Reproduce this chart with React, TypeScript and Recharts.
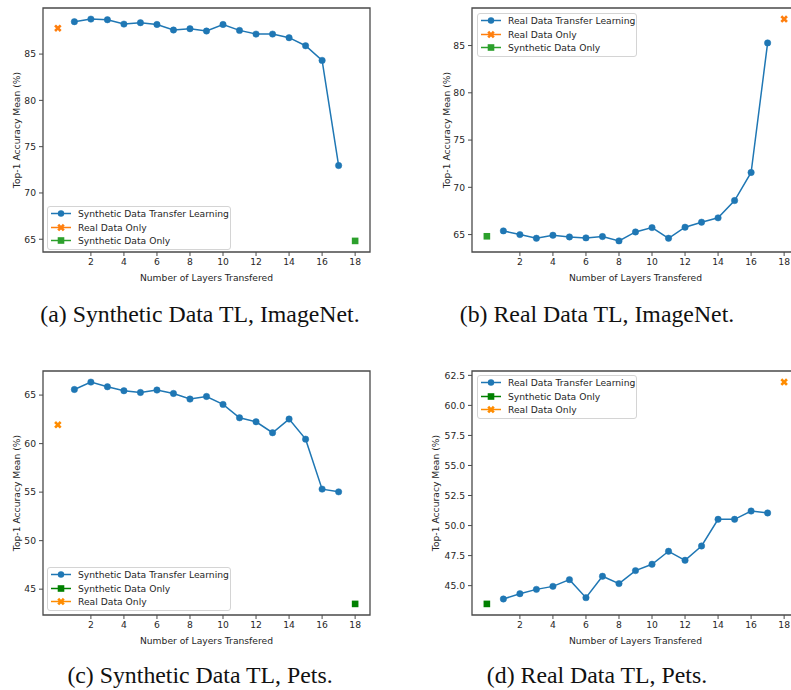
import React from 'react';
import { ComposedChart, Line, XAxis, YAxis, Legend, ReferenceArea } from 'recharts';

// layers transferred (x) for the transfer-learning curves
const layers = [1, 2, 3, 4, 5, 6, 7, 8, 9, 10, 11, 12, 13, 14, 15, 16, 17];
const xTicks = [2, 4, 6, 8, 10, 12, 14, 16, 18];

const synImagenetTL = [88.5, 88.78, 88.71, 88.24, 88.39, 88.2, 87.6, 87.74, 87.49, 88.2, 87.56, 87.16, 87.16, 86.77, 85.9, 84.32, 72.96];
const realImagenetTL = [65.39, 65.0, 64.61, 64.93, 64.75, 64.65, 64.79, 64.33, 65.28, 65.74, 64.61, 65.78, 66.31, 66.77, 68.6, 71.57, 85.28];
const synPetsTL = [65.58, 66.34, 65.86, 65.45, 65.27, 65.52, 65.17, 64.59, 64.86, 64.04, 62.66, 62.25, 61.12, 62.53, 60.46, 55.31, 55.03];
const realPetsTL = [43.89, 44.33, 44.69, 44.94, 45.5, 44.0, 45.78, 45.17, 46.25, 46.78, 47.86, 47.11, 48.3, 50.52, 50.52, 51.21, 51.05];

const imagenetRealOnly = 87.8;
const imagenetSynOnly = 64.82;
const petsRealOnly = 61.94;
const petsSynOnly = 43.48;

const ticksImagenet = [65, 70, 75, 80, 85];
const ticksSynPets = [45, 50, 55, 60, 65];
const ticksRealPets = [45, 47.5, 50, 52.5, 55, 57.5, 60, 62.5];

const captions = [
  '(a) Synthetic Data TL, ImageNet.',
  '(b) Real Data TL, ImageNet.',
  '(c) Synthetic Data TL, Pets.',
  '(d) Real Data TL, Pets.'
];

const BLUE = '#1f77b4';
const FONT = 'DejaVu Sans';
const FS = 9.2;
const AXIS = '#4a4a4a';
const TEXT = '#262626';

type Marker = 'circle' | 'x' | 'square';

function markerPath(kind: Marker, cx: number, cy: number, color: string, key?: any) {
  if (kind === 'square') {
    return <rect key={key} x={cx - 3.3} y={cy - 3.3} width={6.6} height={6.6} fill={color} />;
  }
  if (kind === 'x') {
    const v = [[-0.25, -0.5], [0, -0.25], [0.25, -0.5], [0.5, -0.25], [0.25, 0], [0.5, 0.25], [0.25, 0.5], [0, 0.25], [-0.25, 0.5], [-0.5, 0.25], [-0.25, 0], [-0.5, -0.25]];
    const s = 7.5;
    const d = v.map((p, i) => `${i ? 'L' : 'M'}${cx + p[0] * s},${cy + p[1] * s}`).join(' ') + 'Z';
    return <path key={key} d={d} fill={color} />;
  }
  return <circle key={key} cx={cx} cy={cy} r={3.2} fill={color} />;
}

type Item = { name: string; color: string; marker: Marker };

function LegendBox({ items, width }: { items: Item[]; width: number }) {
  return <div style={{
    width,
    boxSizing: 'border-box',
    border: '1px solid #d4d4d4',
    borderRadius: 3,
    background: 'rgba(255,255,255,0.85)',
    padding: '0 0 1px 0',
    fontFamily: FONT,
    fontSize: FS,
    color: TEXT
  }}>
      {items.map(it => <div key={it.name} style={{ height: 13.5, display: 'flex', alignItems: 'center' }}>
          <svg width={30} height={13} style={{ flex: 'none' }}>
            <line x1={3} x2={23} y1={6.5} y2={6.5} stroke={it.color} strokeWidth={1.5} />
            {markerPath(it.marker, 13, 6.5, it.color)}
          </svg>
          <span style={{ whiteSpace: 'nowrap', lineHeight: '13px' }}>{it.name}</span>
        </div>)}
    </div>;
}

type PanelProps = {
  left: number;
  top: number;
  width: number;
  yAxisWidth: number;
  tl: number[];
  tlName: string;
  realX: number;
  realY: number;
  realColor: string;
  synX: number;
  synY: number;
  synColor: string;
  order: ('real' | 'syn')[];
  yTicks: number[];
  decimals: number;
  yLabelX: number;
  legendLeft: number;
  legendTop: number;
  legendWidth: number;
};

function Panel(p: PanelProps) {
  const tlData = layers.map((x, i) => ({ x, y: p.tl[i] }));
  const all = [...p.tl, p.realY, p.synY];
  const lo = Math.min(...all);
  const hi = Math.max(...all);
  const pad = (hi - lo) * 0.05;
  const domain = [lo - pad, hi + pad];
  const items: Item[] = [{ name: p.tlName, color: BLUE, marker: 'circle' }];
  p.order.forEach(k => items.push(k === 'real' ? { name: 'Real Data Only', color: p.realColor, marker: 'x' } : { name: 'Synthetic Data Only', color: p.synColor, marker: 'square' }));
  const tickStyle = { fontSize: FS, fill: TEXT, fontFamily: FONT };
  return <div style={{ position: 'absolute', left: p.left, top: p.top }}>
      <ComposedChart width={p.width} height={290} margin={{ top: 8, right: 30, left: 0, bottom: 0 }}>
        <XAxis dataKey="x" type="number" domain={[-0.9, 18.9]} ticks={xTicks} allowDataOverflow height={38} axisLine={false} tickSize={4} tickMargin={2} tickLine={{ stroke: AXIS }} tick={tickStyle} label={{ value: 'Number of Layers Transfered', position: 'insideBottom', offset: 9, style: { fontSize: FS, fill: TEXT, fontFamily: FONT } }} />
        <YAxis type="number" domain={domain} ticks={p.yTicks} allowDataOverflow width={p.yAxisWidth} axisLine={false} tickSize={4} tickMargin={3} tickLine={{ stroke: AXIS }} tick={tickStyle} tickFormatter={(v: number) => v.toFixed(p.decimals)} label={{ value: 'Top-1 Accuracy Mean (%)', angle: -90, position: 'insideLeft', offset: p.yLabelX, style: { fontSize: FS, fill: TEXT, fontFamily: FONT, textAnchor: 'middle' } }} />
        <ReferenceArea x1={-0.9} x2={18.9} y1={domain[0]} y2={domain[1]} fill="none" stroke={AXIS} strokeWidth={1.3} ifOverflow="visible" />
        <Line data={tlData} dataKey="y" stroke={BLUE} strokeWidth={1.5} dot={{ r: 3.2, fill: BLUE, stroke: BLUE, strokeWidth: 0.5 }} activeDot={false} isAnimationActive={false} />
        <Line data={[{ x: p.realX, y: p.realY }]} dataKey="y" stroke="none" dot={(d: any) => markerPath('x', d.cx, d.cy, p.realColor, `r${d.index}`)} activeDot={false} isAnimationActive={false} />
        <Line data={[{ x: p.synX, y: p.synY }]} dataKey="y" stroke="none" dot={(d: any) => markerPath('square', d.cx, d.cy, p.synColor, `s${d.index}`)} activeDot={false} isAnimationActive={false} />
        <Legend layout="vertical" align="center" verticalAlign="middle" wrapperStyle={{ left: p.legendLeft, top: p.legendTop, width: p.legendWidth }} content={() => <LegendBox items={items} width={p.legendWidth} />} />
      </ComposedChart>
    </div>;
}

const captionStyle: React.CSSProperties = {
  position: 'absolute',
  width: 400,
  textAlign: 'center',
  fontFamily: '"Liberation Serif", serif',
  fontSize: 23.8,
  lineHeight: 1,
  color: '#111'
};

export default function App() {
  return <div style={{ position: 'absolute', left: 0, top: 0, width: 791, height: 690, overflow: 'hidden', background: '#fff' }}>
      <Panel left={0} top={0} width={400} yAxisWidth={43} tl={synImagenetTL} tlName="Synthetic Data Transfer Learning" realX={0} realY={imagenetRealOnly} realColor="#ff7f0e" synX={18} synY={imagenetSynOnly} synColor="#2ca02c" order={['real', 'syn']} yTicks={ticksImagenet} decimals={0} yLabelX={17} legendLeft={47} legendTop={206} legendWidth={184} />
      <Panel left={400} top={0} width={429} yAxisWidth={72} tl={realImagenetTL} tlName="Real Data Transfer Learning" realX={18} realY={imagenetRealOnly} realColor="#ff7f0e" synX={0} synY={imagenetSynOnly} synColor="#2ca02c" order={['real', 'syn']} yTicks={ticksImagenet} decimals={0} yLabelX={47} legendLeft={77} legendTop={13} legendWidth={160} />
      <Panel left={0} top={363} width={400} yAxisWidth={43} tl={synPetsTL} tlName="Synthetic Data Transfer Learning" realX={0} realY={petsRealOnly} realColor="#ff8c00" synX={18} synY={petsSynOnly} synColor="#008000" order={['syn', 'real']} yTicks={ticksSynPets} decimals={0} yLabelX={17} legendLeft={47} legendTop={204} legendWidth={184} />
      <Panel left={400} top={363} width={429} yAxisWidth={72} tl={realPetsTL} tlName="Real Data Transfer Learning" realX={18} realY={petsRealOnly} realColor="#ff8c00" synX={0} synY={petsSynOnly} synColor="#008000" order={['syn', 'real']} yTicks={ticksRealPets} decimals={1} yLabelX={36} legendLeft={77} legendTop={12} legendWidth={160} />
      <div style={{ ...captionStyle, left: 0, top: 303 }}>{captions[0]}</div>
      <div style={{ ...captionStyle, left: 397, top: 303 }}>{captions[1]}</div>
      <div style={{ ...captionStyle, left: 0, top: 664 }}>{captions[2]}</div>
      <div style={{ ...captionStyle, left: 397, top: 664 }}>{captions[3]}</div>
    </div>;
}
